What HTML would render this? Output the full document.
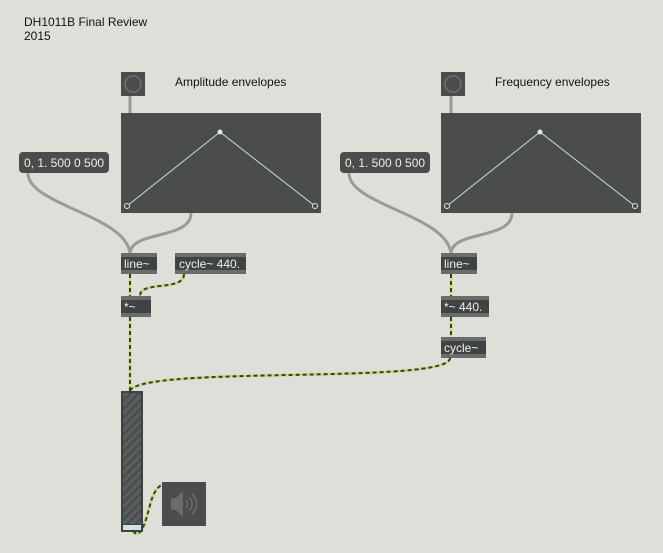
<!DOCTYPE html>
<html><head><style>
body{margin:0;background:#dfdfd9;}
svg{display:block;font-family:"Liberation Sans",sans-serif;}
</style></head><body>
<svg width="663" height="553" viewBox="0 0 663 553" xmlns="http://www.w3.org/2000/svg">
<rect width="663" height="553" fill="#dfdfd9"/>
<text x="24" y="26" font-size="12" fill="#111">DH1011B Final Review</text>
<text x="24" y="40" font-size="12" fill="#111">2015</text>
<text x="175" y="86" font-size="12" fill="#111">Amplitude envelopes</text>
<text x="495" y="86" font-size="12" fill="#111">Frequency envelopes</text>

<!-- grey patch cords -->
<g fill="none" stroke="#9a9a98" stroke-width="3">
<path d="M130 96 V113"/>
<path d="M451 96 V113"/>
<path d="M28 173 C28 205 125 215 130 253"/>
<path d="M191 213 C191 240 132 230 130 253"/>
<path d="M349 173 C349 205 446 215 451 253"/>
<path d="M512 213 C512 240 453 230 451 253"/>
</g>
<!-- signal cords -->
<g fill="none" stroke-width="3">
<g stroke="#c8e07a">
<path d="M130 274 V296"/>
<path d="M184 274 C184 292 140 280 140 296"/>
<path d="M130 317 V391"/>
<path d="M451 274 V296"/>
<path d="M451 317 V337"/>
<path d="M450 358 C450 385 140 365 130 391"/>
<path d="M133 531 C140 540 145 525 150 505 C155 485 165 480 170 488"/>
</g>
<g stroke="#3a3c3a" stroke-dasharray="4 3" stroke-width="2">
<path d="M130 274 V296"/>
<path d="M184 274 C184 292 140 280 140 296"/>
<path d="M130 317 V391"/>
<path d="M451 274 V296"/>
<path d="M451 317 V337"/>
<path d="M450 358 C450 385 140 365 130 391"/>
<path d="M133 531 C140 540 145 525 150 505 C155 485 165 480 170 488"/>
</g>
</g>

<!-- buttons -->
<rect x="121" y="72" width="24" height="24" fill="#4a4d4c"/>
<circle cx="133" cy="84" r="8" fill="none" stroke="#666968" stroke-width="2"/>
<rect x="441" y="72" width="24" height="24" fill="#4a4d4c"/>
<circle cx="453" cy="84" r="8" fill="none" stroke="#666968" stroke-width="2"/>

<!-- function boxes -->
<rect x="121" y="113" width="200" height="100" fill="#4a4d4c"/>
<polyline points="127,206 220,132 315,206" fill="none" stroke="#c9dedf" stroke-width="1"/>
<circle cx="220" cy="132" r="2.5" fill="#d6ecec"/>
<circle cx="127" cy="206" r="2.5" fill="#4a4d4c" stroke="#d6ecec"/>
<circle cx="315" cy="206" r="2.5" fill="#4a4d4c" stroke="#d6ecec"/>
<rect x="441" y="113" width="200" height="100" fill="#4a4d4c"/>
<polyline points="447,206 540,132 635,206" fill="none" stroke="#c9dedf" stroke-width="1"/>
<circle cx="540" cy="132" r="2.5" fill="#d6ecec"/>
<circle cx="447" cy="206" r="2.5" fill="#4a4d4c" stroke="#d6ecec"/>
<circle cx="635" cy="206" r="2.5" fill="#4a4d4c" stroke="#d6ecec"/>

<!-- message boxes -->
<rect x="19" y="152" width="90" height="21" rx="4" fill="#4a4d4c"/>
<text x="24" y="167" font-size="12" fill="#eee">0, 1. 500 0 500</text>
<rect x="340" y="152" width="90" height="21" rx="4" fill="#4a4d4c"/>
<text x="345" y="167" font-size="12" fill="#eee">0, 1. 500 0 500</text>

<!-- objects -->
<g font-size="12" fill="#f0f0f0">
<rect x="121" y="253" width="36" height="21" fill="#404343"/><rect x="121" y="253" width="36" height="4" fill="#6a6c6c"/><rect x="121" y="270" width="36" height="4" fill="#6a6c6c"/>
<text x="124" y="268">line~</text>
<rect x="175" y="253" width="71" height="21" fill="#404343"/><rect x="175" y="253" width="71" height="4" fill="#6a6c6c"/><rect x="175" y="270" width="71" height="4" fill="#6a6c6c"/>
<text x="179" y="268">cycle~ 440.</text>
<rect x="121" y="296" width="30" height="21" fill="#404343"/><rect x="121" y="296" width="30" height="4" fill="#6a6c6c"/><rect x="121" y="313" width="30" height="4" fill="#6a6c6c"/>
<text x="124" y="311">*~</text>
<rect x="441" y="253" width="36" height="21" fill="#404343"/><rect x="441" y="253" width="36" height="4" fill="#6a6c6c"/><rect x="441" y="270" width="36" height="4" fill="#6a6c6c"/>
<text x="444" y="268">line~</text>
<rect x="441" y="296" width="48" height="21" fill="#404343"/><rect x="441" y="296" width="48" height="4" fill="#6a6c6c"/><rect x="441" y="313" width="48" height="4" fill="#6a6c6c"/>
<text x="444" y="311">*~ 440.</text>
<rect x="441" y="337" width="45" height="21" fill="#404343"/><rect x="441" y="337" width="45" height="4" fill="#6a6c6c"/><rect x="441" y="354" width="45" height="4" fill="#6a6c6c"/>
<text x="444" y="352">cycle~</text>
</g>

<!-- meter -->
<defs><pattern id="h" width="6" height="6" patternUnits="userSpaceOnUse" patternTransform="rotate(45)"><rect width="6" height="6" fill="#4b4e4e"/><rect width="3" height="6" fill="#5c5f5f"/></pattern></defs>
<rect x="121" y="391" width="22" height="141" fill="#3e4141"/>
<rect x="123" y="393" width="18" height="131" fill="url(#h)"/>
<rect x="123" y="525" width="18" height="5" fill="#cde4e6"/>

<!-- speaker -->
<rect x="162" y="482" width="44" height="44" fill="#4a4d4c"/>
<path d="M171 498 h5 l7 -7 v26 l-7 -7 h-5 z" fill="#6a6d6c"/>
<path d="M186 500 q3 4 0 8 M189 497 q6 7 0 14 M192 494 q9 10 0 20" fill="none" stroke="#6a6d6c" stroke-width="1.5"/>
</svg>
</body></html>
